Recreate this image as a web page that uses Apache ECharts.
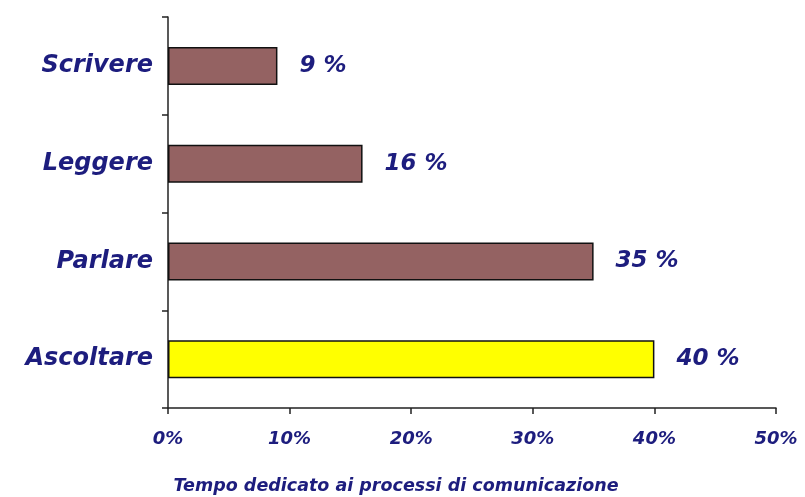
<!DOCTYPE html>
<html><head><meta charset="utf-8">
<script src="https://cdn.jsdelivr.net/npm/echarts@6/dist/echarts.min.js"></script>
<style>html,body{margin:0;padding:0;background:#fff}#c{width:805px;height:497px}</style>
</head><body><div id="c"></div>
<script>
const categories = ['Ascoltare', 'Parlare', 'Leggere', 'Scrivere'];
const values = [40, 35, 16, 9];
const barColors = ['#ffff00', '#946262', '#946262', '#946262'];
const xTicks = [0, 10, 20, 30, 40, 50];
const axisTitle = 'Tempo dedicato ai processi di comunicazione';

const txt = '#1d1d7e';
const font = '"DejaVu Sans", Verdana, sans-serif';
const chart = echarts.init(document.getElementById('c'));
chart.setOption({
  animation: false,
  grid: { left: 168, right: 29, top: 17, bottom: 89, containLabel: false },
  title: {
    text: axisTitle, left: 391, top: 472, textAlign: 'center',
    textStyle: { color: txt, fontFamily: font, fontStyle: 'italic', fontWeight: 'bold', fontSize: 17.5 }
  },
  xAxis: {
    type: 'value', min: 0, max: 50, interval: 10,
    splitLine: { show: false },
    axisLine: { show: true, lineStyle: { color: '#222', width: 1.5 } },
    axisTick: { show: true, length: 6, lineStyle: { color: '#222', width: 1.5 } },
    axisLabel: {
      margin: 22, color: txt, fontFamily: font, fontStyle: 'italic', fontWeight: 'bold', fontSize: 18,
      formatter: v => xTicks.includes(v) ? v + '%' : ''
    }
  },
  yAxis: {
    type: 'category', data: categories,
    axisLine: { show: true, lineStyle: { color: '#222', width: 1.5 } },
    axisTick: { show: true, length: 6, alignWithLabel: false, lineStyle: { color: '#222', width: 1.5 } },
    axisLabel: { margin: 15, color: txt, fontFamily: font, fontStyle: 'italic', fontWeight: 'bold', fontSize: 24 }
  },
  series: [{
    type: 'bar', barWidth: 38,
    data: values.map((v, i) => ({ value: v, itemStyle: { color: barColors[i] } })),
    itemStyle: { borderColor: '#111', borderWidth: 1.5 },
    label: {
      show: true, position: 'right', distance: 22,
      formatter: p => p.value + ' %',
      color: txt, fontFamily: font, fontStyle: 'italic', fontWeight: 'bold', fontSize: 23
    }
  }]
});
</script></body></html>
